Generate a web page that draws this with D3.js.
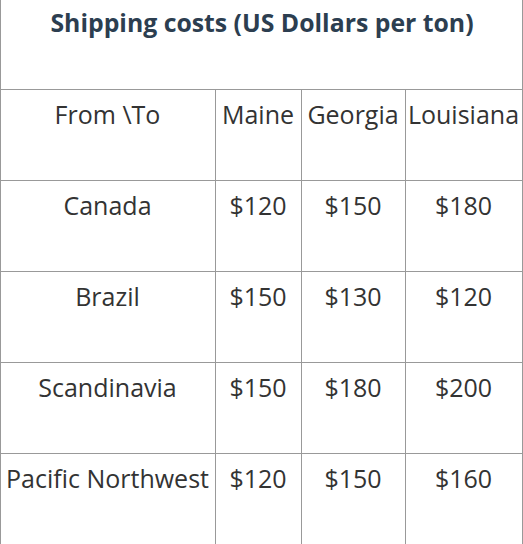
<!DOCTYPE html>
<html><head><meta charset="utf-8">
<script src="https://cdn.jsdelivr.net/npm/d3@7"></script>
<style>body{margin:0;background:#fff}</style></head>
<body><svg id="c" width="523" height="544"></svg>
<script>
const title = "Shipping costs (US Dollars per ton)";
const header = ["From \\To", "Maine", "Georgia", "Louisiana"];
const origins = ["Canada", "Brazil", "Scandinavia", "Pacific Northwest"];
const maine = [120, 150, 150, 120];
const georgia = [150, 130, 180, 150];
const louisiana = [180, 120, 200, 160];

const svg = d3.select("#c");
const colEdges = [0, 215, 301, 405, 522];
const rowTop = 89, rowH = 91;
const nRows = origins.length + 1;
const y = d3.scaleLinear().domain([0, nRows]).range([rowTop, rowTop + rowH * nRows]);
const fmt = v => "$" + v;
const rows = [header].concat(origins.map((o, i) => [o, fmt(maine[i]), fmt(georgia[i]), fmt(louisiana[i])]));

const g = svg.append("g").attr("stroke", "#999").attr("stroke-width", 1).attr("shape-rendering", "crispEdges");
g.append("line").attr("x1", 0.5).attr("x2", 0.5).attr("y1", 0).attr("y2", 544);
g.append("line").attr("x1", 522.5).attr("x2", 522.5).attr("y1", 0).attr("y2", 544);
d3.range(0, nRows).forEach(r => g.append("line").attr("x1", 0).attr("x2", 523)
  .attr("y1", Math.round(y(r)) + 0.5).attr("y2", Math.round(y(r)) + 0.5));
colEdges.slice(1, -1).forEach(x => g.append("line").attr("x1", x + 0.5).attr("x2", x + 0.5)
  .attr("y1", rowTop).attr("y2", 544));

svg.append("text").attr("x", 262).attr("y", 32).attr("text-anchor", "middle")
  .attr("font-family", "Open Sans").attr("font-weight", "bold").attr("font-size", 24.8)
  .attr("fill", "#2c3e50").text(title);

rows.forEach((row, r) => row.forEach((t, c) => {
  svg.append("text").attr("x", (colEdges[c] + colEdges[c + 1]) / 2)
    .attr("y", y(r) + 34.5).attr("text-anchor", "middle")
    .attr("font-family", "Open Sans").attr("font-size", 25).attr("fill", "#333")
    .text(t);
}));
</script></body></html>
